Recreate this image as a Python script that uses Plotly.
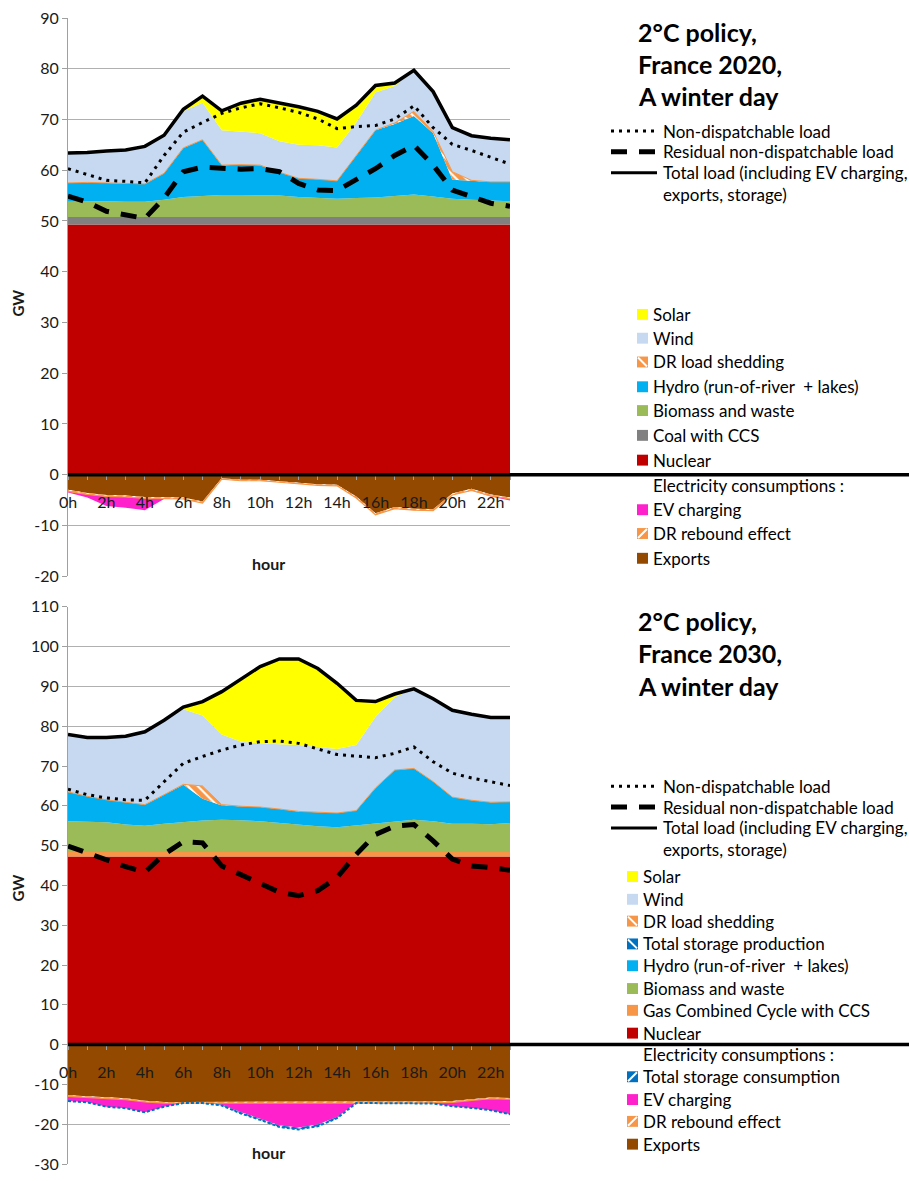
import plotly.graph_objects as go

# ---------------- data ----------------
hours = list(range(24))
hour_labels = ["0h", "", "2h", "", "4h", "", "6h", "", "8h", "", "10h", "", "12h", "",
               "14h", "", "16h", "", "18h", "", "20h", "", "22h", ""]

# ---- France 2020 ----
y_ticks_2020 = [-20, -10, 0, 10, 20, 30, 40, 50, 60, 70, 80, 90]
nuclear_2020 = [49.3, 49.3, 49.3, 49.3, 49.3, 49.3, 49.3, 49.3, 49.3, 49.3, 49.3, 49.3,
                49.3, 49.3, 49.3, 49.3, 49.3, 49.3, 49.3, 49.3, 49.3, 49.3, 49.3, 49.3]
coal_ccs_2020 = [1.5, 1.5, 1.5, 1.5, 1.5, 1.5, 1.5, 1.5, 1.5, 1.5, 1.5, 1.5,
                 1.5, 1.5, 1.5, 1.5, 1.5, 1.5, 1.5, 1.5, 1.5, 1.5, 1.5, 1.5]
biomass_2020 = [3.0, 3.1, 3.1, 3.0, 3.0, 3.4, 3.9, 4.1, 4.3, 4.3, 4.3, 4.2,
                3.9, 3.7, 3.6, 3.7, 3.8, 4.1, 4.4, 4.0, 3.6, 3.4, 3.2, 3.1]
hydro_2020 = [3.7, 3.7, 3.6, 3.6, 3.5, 5.2, 9.7, 11.1, 5.9, 6.0, 5.9, 4.6,
              3.7, 3.7, 3.5, 8.4, 13.3, 14.2, 15.5, 12.5, 3.7, 3.7, 3.7, 3.8]
dr_shedding_2020 = [0, 0, 0, 0, 0, 0, 0, 0, 0, 0, 0, 0,
                    0, 0, 0, 0, 0, 0.2, 0.9, 0.3, 1.6, 0.1, 0, 0]
wind_2020 = [5.9, 5.9, 6.3, 6.6, 7.4, 7.5, 7.2, 7.3, 6.9, 6.5, 6.3, 6.1,
             6.6, 6.7, 6.6, 6.5, 7.4, 7.3, 8.1, 7.9, 8.7, 8.8, 8.6, 8.3]
solar_2020 = [0, 0, 0, 0, 0, 0, 0.4, 1.3, 3.8, 5.6, 6.7, 7.5,
              7.5, 6.7, 5.6, 3.4, 1.4, 0.6, 0, 0, 0, 0, 0, 0]
exports_2020 = [-3.0, -3.6, -4.0, -4.1, -4.4, -4.4, -4.5, -5.3, -0.7, -1.0, -1.0, -1.3,
                -1.6, -1.9, -2.0, -4.3, -7.6, -6.4, -6.7, -6.8, -3.7, -2.8, -3.9, -4.5]
dr_rebound_2020 = [-0.3, -0.3, -0.3, -0.3, -0.3, -0.3, -0.3, -0.3, -0.2, -0.2, -0.2, -0.2,
                   -0.2, -0.2, -0.2, -0.3, -0.3, -0.3, -0.3, -0.3, -0.3, -0.3, -0.3, -0.3]
ev_2020 = [-0.2, -0.6, -1.9, -2.1, -2.3, -0.1, 0, 0, 0, 0, 0, 0,
           0, 0, 0, 0, 0, 0, 0, 0, 0, 0, -0.1, -0.3]
total_load_2020 = [63.4, 63.5, 63.8, 64.0, 64.7, 66.9, 72.0, 74.6, 71.7, 73.2, 74.0, 73.3,
                   72.5, 71.6, 70.1, 72.8, 76.7, 77.2, 79.7, 75.5, 68.4, 66.8, 66.3, 66.0]
nondisp_2020 = [60.3, 59.2, 58.0, 57.8, 57.5, 62.9, 67.5, 69.4, 71.2, 72.3, 73.1, 72.3,
                71.4, 70.1, 68.2, 68.6, 68.8, 70.1, 72.7, 68.4, 65.1, 63.9, 62.6, 61.2]
residual_2020 = [54.9, 53.7, 51.9, 51.2, 50.5, 54.5, 59.7, 60.6, 60.3, 60.2, 60.3, 59.7,
                 57.4, 56.1, 56.0, 58.1, 60.3, 62.9, 64.9, 61.0, 56.1, 54.8, 53.5, 52.9]

# ---- France 2030 ----
y_ticks_2030 = [-30, -20, -10, 0, 10, 20, 30, 40, 50, 60, 70, 80, 90, 100, 110]
nuclear_2030 = [47.3, 47.3, 47.3, 47.3, 47.3, 47.3, 47.3, 47.3, 47.3, 47.3, 47.3, 47.3,
                47.3, 47.3, 47.3, 47.3, 47.3, 47.3, 47.3, 47.3, 47.3, 47.3, 47.3, 47.3]
gas_ccs_2030 = [1.1, 1.1, 1.1, 1.1, 1.1, 1.1, 1.1, 1.1, 1.1, 1.1, 1.1, 1.1,
                1.1, 1.1, 1.1, 1.1, 1.1, 1.1, 1.1, 1.1, 1.1, 1.1, 1.1, 1.1]
biomass_2030 = [7.7, 7.6, 7.5, 6.9, 6.6, 7.1, 7.5, 7.9, 8.1, 8.0, 7.7, 7.3,
                6.8, 6.5, 6.2, 6.7, 7.2, 7.7, 8.1, 7.7, 7.1, 7.1, 7.0, 7.3]
hydro_2030 = [7.4, 6.4, 5.6, 5.6, 5.3, 7.3, 9.4, 5.5, 3.6, 3.5, 3.6, 3.5,
              3.4, 3.5, 3.6, 3.7, 8.9, 12.9, 12.9, 10.0, 6.7, 5.9, 5.5, 5.3]
storage_prod_2030 = [0, 0, 0, 0, 0, 0, 0, 0, 0, 0, 0, 0,
                     0, 0, 0, 0, 0, 0, 0, 0, 0, 0, 0, 0]
dr_shedding_2030 = [0, 0, 0, 0, 0, 0, 0.1, 3.2, 0.2, 0, 0, 0,
                    0, 0, 0, 0, 0, 0, 0, 0, 0, 0, 0, 0]
wind_2030 = [14.4, 14.8, 15.7, 16.6, 18.3, 18.7, 18.9, 17.7, 17.6, 16.2, 16.0, 16.3,
             16.7, 16.4, 16.1, 16.5, 17.8, 18.3, 20.0, 20.8, 21.8, 21.6, 21.3, 21.2]
solar_2030 = [0, 0, 0, 0, 0, 0, 0.5, 3.5, 10.8, 15.8, 19.3, 21.4,
              21.6, 19.7, 16.5, 11.2, 3.9, 0.8, 0, 0, 0, 0, 0, 0]
exports_2030 = [-12.7, -13.0, -13.3, -13.5, -14.1, -14.4, -14.4, -14.4, -14.4, -14.4, -14.4, -14.4,
                -14.4, -14.4, -14.4, -14.4, -14.4, -14.4, -14.4, -14.3, -14.2, -13.7, -13.3, -13.4]
dr_rebound_2030 = [-0.3, -0.3, -0.3, -0.3, -0.3, -0.3, -0.3, -0.3, -0.4, -0.4, -0.4, -0.4,
                   -0.4, -0.4, -0.4, -0.3, -0.3, -0.3, -0.3, -0.3, -0.3, -0.3, -0.3, -0.3]
ev_2030 = [-1.2, -1.2, -2.0, -2.2, -2.6, -0.9, 0, 0, -0.3, -2.2, -3.8, -5.5,
           -6.0, -5.3, -3.4, 0, 0, 0, 0, -0.2, -1.0, -1.9, -2.9, -3.8]
storage_cons_2030 = [0, 0, 0, 0, 0, 0, 0, 0, -0.2, -0.3, -0.3, -0.4,
                     -0.5, -0.4, -0.3, 0, 0, 0, 0, 0, 0, 0, 0, 0]
total_load_2030 = [77.9, 77.2, 77.2, 77.5, 78.6, 81.5, 84.8, 86.2, 88.7, 91.9, 95.0, 96.9,
                   96.9, 94.5, 90.8, 86.5, 86.2, 88.1, 89.4, 86.9, 84.0, 83.0, 82.2, 82.2]
nondisp_2030 = [64.2, 62.8, 62.0, 61.5, 61.4, 66.1, 70.7, 72.4, 74.0, 75.3, 76.1, 76.3,
                75.7, 74.3, 72.9, 72.5, 72.1, 73.2, 74.8, 71.1, 68.2, 67.0, 66.0, 65.1]
residual_2030 = [49.9, 48.2, 46.2, 44.7, 43.3, 47.8, 51.0, 50.7, 44.9, 42.7, 40.3, 38.3,
                 37.4, 38.7, 42.0, 47.8, 52.8, 54.9, 55.3, 51.2, 46.6, 44.9, 44.5, 43.8]

# ---------------- styling ----------------
FONT = "Lato, Open Sans, sans-serif"
TXT = "#1a1a1a"
C_NUC = "#C00000"
C_COAL = "#808080"
C_GAS = "#F79646"
C_BIO = "#9BBB59"
C_HYD = "#00B0F0"
C_WIND = "#C6D9F1"
C_SOL = "#FFFF00"
C_DR = "#F79646"
C_STO = "#0070C0"
C_EV = "#FF22CC"
C_EXP = "#934900"
GRID = "#b0b0b0"
LEG_SIZE = 17
TITLE_SIZE = 25

W, H = 909, 1181
L, R, T, B = 68, 510, 17, 1173


def px(x):
    return (x - L) / (R - L)


def py(y):
    return (B - y) / (B - T)


top_dom = [py(580), py(17)]
bot_dom = [py(1173), py(611)]
top_range = [-20, 90]
bot_range = [-30, 110]


def zero_pos(dom, rng):
    return dom[0] + (0 - rng[0]) / (rng[1] - rng[0]) * (dom[1] - dom[0])


fig = go.Figure()


def area(x, y, name, color, xa, ya, group, line=None, pattern=None):
    kw = dict(x=x, y=y, name=name, mode="lines", stackgroup=group,
              xaxis=xa, yaxis=ya, fillcolor=color, showlegend=False,
              hoverinfo="skip")
    kw["line"] = line if line is not None else dict(width=0, color=color)
    if pattern is not None:
        kw["fillpattern"] = pattern
    fig.add_trace(go.Scatter(**kw))


def hatch(shape, fg, bg):
    return dict(shape=shape, fgcolor=fg, bgcolor=bg, size=7, solidity=0.3, fillmode="replace")


# ---- top chart (2020) ----
area(hours, nuclear_2020, "Nuclear", C_NUC, "x", "y", "p1")
area(hours, coal_ccs_2020, "Coal with CCS", C_COAL, "x", "y", "p1")
area(hours, biomass_2020, "Biomass and waste", C_BIO, "x", "y", "p1")
area(hours, hydro_2020, "Hydro", C_HYD, "x", "y", "p1")
area(hours, dr_shedding_2020, "DR load shedding", C_DR, "x", "y", "p1",
     line=dict(width=1, color=C_DR), pattern=hatch("\\", "white", C_DR))
area(hours, wind_2020, "Wind", C_WIND, "x", "y", "p1")
area(hours, solar_2020, "Solar", C_SOL, "x", "y", "p1")
area(hours, exports_2020, "Exports", C_EXP, "x", "y", "n1")
area(hours, dr_rebound_2020, "DR rebound effect", C_DR, "x", "y", "n1",
     line=dict(width=1.2, color=C_DR), pattern=hatch("/", "white", C_DR))
area(hours, ev_2020, "EV charging", C_EV, "x", "y", "n1")

# ---- bottom chart (2030) ----
area(hours, nuclear_2030, "Nuclear", C_NUC, "x2", "y2", "p2")
area(hours, gas_ccs_2030, "Gas Combined Cycle with CCS", C_GAS, "x2", "y2", "p2")
area(hours, biomass_2030, "Biomass and waste", C_BIO, "x2", "y2", "p2")
area(hours, hydro_2030, "Hydro", C_HYD, "x2", "y2", "p2")
area(hours, storage_prod_2030, "Total storage production", C_STO, "x2", "y2", "p2",
     pattern=hatch("\\", "white", C_STO))
area(hours, dr_shedding_2030, "DR load shedding", C_DR, "x2", "y2", "p2",
     line=dict(width=1, color=C_DR), pattern=hatch("\\", "white", C_DR))
area(hours, wind_2030, "Wind", C_WIND, "x2", "y2", "p2")
area(hours, solar_2030, "Solar", C_SOL, "x2", "y2", "p2")
area(hours, exports_2030, "Exports", C_EXP, "x2", "y2", "n2")
area(hours, dr_rebound_2030, "DR rebound effect", C_DR, "x2", "y2", "n2",
     line=dict(width=1.2, color=C_DR), pattern=hatch("/", "white", C_DR))
area(hours, ev_2030, "EV charging", C_EV, "x2", "y2", "n2")
area(hours, storage_cons_2030, "Total storage consumption", C_STO, "x2", "y2", "n2",
     line=dict(width=2, color=C_STO, dash="3px,2px"), pattern=hatch("/", "white", C_STO))


def load_lines(xa, ya, total, nondisp, resid):
    fig.add_trace(go.Scatter(x=hours, y=nondisp, mode="lines", xaxis=xa, yaxis=ya,
                             line=dict(color="black", width=3, dash="3px,5px"),
                             showlegend=False, hoverinfo="skip"))
    fig.add_trace(go.Scatter(x=hours, y=resid, mode="lines", xaxis=xa, yaxis=ya,
                             line=dict(color="black", width=5, dash="16px,12px"),
                             showlegend=False, hoverinfo="skip"))
    fig.add_trace(go.Scatter(x=hours, y=total, mode="lines", xaxis=xa, yaxis=ya,
                             line=dict(color="black", width=3.5),
                             showlegend=False, hoverinfo="skip"))


load_lines("x", "y", total_load_2020, nondisp_2020, residual_2020)
load_lines("x2", "y2", total_load_2030, nondisp_2030, residual_2030)

tickfont = dict(family=FONT, size=16, color=TXT)


def xaxis_cfg(pos):
    return dict(domain=[0, 1], range=[0, 23], anchor="free", position=pos,
                tickvals=hours, ticktext=hour_labels, ticks="outside", ticklen=4,
                tickcolor="#a0a0a0", tickwidth=1, showgrid=False, zeroline=False,
                showline=False, tickfont=tickfont, ticklabelstandoff=9, fixedrange=True)


def yaxis_cfg(dom, rng, ticks, anchor):
    return dict(domain=dom, range=rng, anchor=anchor, tickvals=ticks,
                ticktext=[str(v) for v in ticks], ticks="outside", ticklen=5,
                tickcolor="#a0a0a0", showgrid=True, gridcolor=GRID, gridwidth=1,
                zeroline=False, showline=True, linecolor="#a0a0a0", linewidth=1,
                tickfont=tickfont, fixedrange=True)


z_top = zero_pos(top_dom, top_range)
z_bot = zero_pos(bot_dom, bot_range)

fig.update_layout(
    width=W, height=H,
    margin=dict(l=L, r=W - R, t=T, b=H - B, pad=0),
    paper_bgcolor="white", plot_bgcolor="white",
    showlegend=False,
    font=dict(family=FONT, color=TXT),
    xaxis=xaxis_cfg(z_top),
    yaxis=yaxis_cfg(top_dom, top_range, y_ticks_2020, "x"),
    xaxis2=xaxis_cfg(z_bot),
    yaxis2=yaxis_cfg(bot_dom, bot_range, y_ticks_2030, "x2"),
)

shapes = []
annotations = []

# zero lines spanning to right edge
for z in (z_top, z_bot):
    shapes.append(dict(type="line", xref="paper", yref="paper", x0=0, x1=px(W), y0=z, y1=z,
                       line=dict(color="black", width=3.5), layer="above"))

# axis titles
for (yy, ref) in ((-17.5, "y"), (-27.2, "y2")):
    annotations.append(dict(text="<b>hour</b>", x=10.45, y=yy, xref=ref.replace("y", "x"),
                            yref=ref, showarrow=False, xanchor="center", yanchor="middle",
                            font=dict(family=FONT, size=16, color=TXT)))
for ypix in (305, 895):
    annotations.append(dict(text="<b>GW</b>", x=px(18), y=py(ypix), xref="paper", yref="paper",
                            showarrow=False, textangle=-90, xanchor="center", yanchor="middle",
                            font=dict(family=FONT, size=15, color=TXT)))


def text(x, y, s, size=LEG_SIZE, bold=False):
    annotations.append(dict(text=("<b>%s</b>" % s) if bold else s, x=px(x), y=py(y),
                            xref="paper", yref="paper", showarrow=False,
                            xanchor="left", yanchor="middle",
                            font=dict(family=FONT, size=size, color="black")))


def line_item(y, dash, width, label):
    shapes.append(dict(type="line", xref="paper", yref="paper", x0=px(611), x1=px(657),
                       y0=py(y), y1=py(y), line=dict(color="black", width=width, dash=dash)))
    text(661, y, label)


def box_item(x, y, color, label, stripe=None):
    s = 5.5
    shapes.append(dict(type="rect", xref="paper", yref="paper", x0=px(x), x1=px(x + 11),
                       y0=py(y + s), y1=py(y - s), fillcolor=color, line=dict(width=0)))
    if stripe == "\\":
        shapes.append(dict(type="line", xref="paper", yref="paper", x0=px(x + 1), x1=px(x + 10),
                           y0=py(y - s + 1), y1=py(y + s - 1), line=dict(color="white", width=2)))
    elif stripe == "/":
        shapes.append(dict(type="line", xref="paper", yref="paper", x0=px(x + 1), x1=px(x + 10),
                           y0=py(y + s - 1), y1=py(y - s + 1), line=dict(color="white", width=2)))
    text(x + 14, y, label)


# ---- titles ----
for i, s in enumerate(["2°C policy,", "France 2020,", "A winter day"]):
    text(636, 31 + 32.5 * i, s, size=TITLE_SIZE, bold=True)
for i, s in enumerate(["2°C policy,", "France 2030,", "A winter day"]):
    text(636, 625 + 33 * i, s, size=TITLE_SIZE, bold=True)

# ---- top legend ----
line_item(131, "3px,5px", 3, "Non-dispatchable load")
line_item(152, "16px,12px", 5, "Residual non-dispatchable load")
line_item(173, "solid", 3, "Total load (including EV charging,")
text(661, 195, "exports, storage)")
bx = 637
box_item(bx, 316, C_SOL, "Solar")
box_item(bx, 340, C_WIND, "Wind")
box_item(bx, 364, C_DR, "DR load shedding", "\\")
box_item(bx, 389, C_HYD, "Hydro (run-of-river  + lakes)")
box_item(bx, 413, C_BIO, "Biomass and waste")
box_item(bx, 438, C_COAL, "Coal with CCS")
box_item(bx, 463, C_NUC, "Nuclear")
text(651, 489, "Electricity consumptions :")
box_item(bx, 513, C_EV, "EV charging")
box_item(bx, 537, C_DR, "DR rebound effect", "/")
box_item(bx, 562, C_EXP, "Exports")

# ---- bottom legend ----
line_item(792, "3px,5px", 3, "Non-dispatchable load")
line_item(813, "16px,12px", 5, "Residual non-dispatchable load")
line_item(834, "solid", 3, "Total load (including EV charging,")
text(661, 856, "exports, storage)")
bx = 627
box_item(bx, 883, C_SOL, "Solar")
box_item(bx, 906, C_WIND, "Wind")
box_item(bx, 928, C_DR, "DR load shedding", "\\")
box_item(bx, 951, C_STO, "Total storage production", "\\")
box_item(bx, 973, C_HYD, "Hydro (run-of-river  + lakes)")
box_item(bx, 996, C_BIO, "Biomass and waste")
box_item(bx, 1018, C_GAS, "Gas Combined Cycle with CCS")
box_item(bx, 1041, C_NUC, "Nuclear")
text(641, 1063, "Electricity consumptions :")
box_item(bx, 1085, C_STO, "Total storage consumption", "/")
box_item(bx, 1108, C_EV, "EV charging")
box_item(bx, 1130, C_DR, "DR rebound effect", "/")
box_item(bx, 1153, C_EXP, "Exports")

fig.update_layout(shapes=shapes, annotations=annotations)

fig.write_html("out.html", config={"displayModeBar": False},
               post_script="document.body.style.margin='0';")
